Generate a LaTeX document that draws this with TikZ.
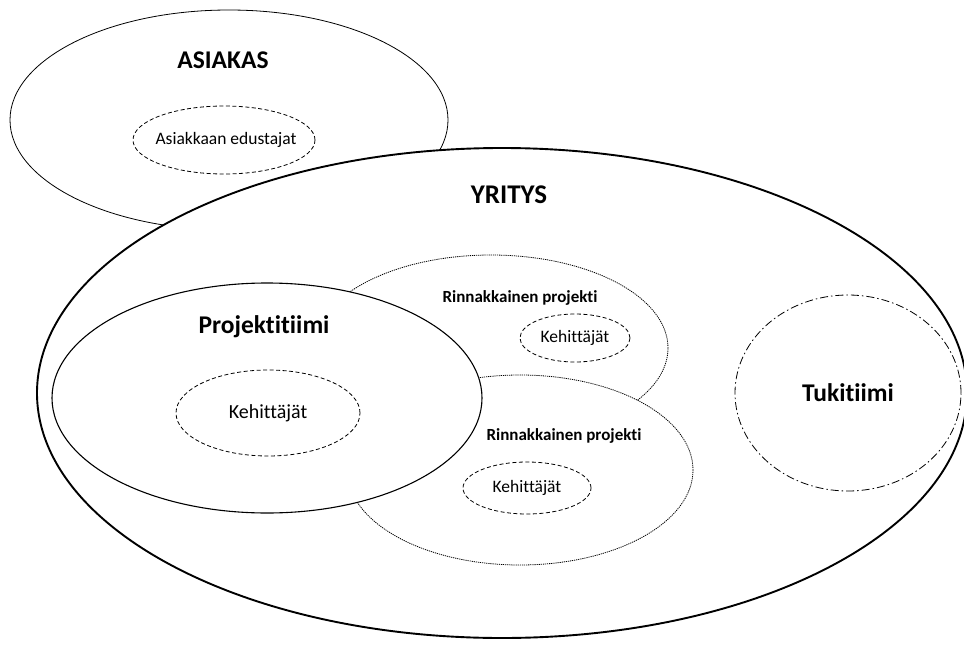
\documentclass[tikz,border=0pt]{standalone}
\usepackage{fontspec}
\setmainfont{Carlito}[Ligatures={NoCommon}]
\usetikzlibrary{shapes.geometric}

\tikzset{
  alue/.style={ellipse, draw, fill=white, inner sep=0pt},
  ryhma/.style={ellipse, draw, dash pattern=on 4pt off 2.5pt, line width=0.8pt, inner sep=0pt},
  rinn/.style={alue, dash pattern=on 1.2pt off 0.9pt, line width=0.8pt},
  otsikko/.style={font=\bfseries\fontsize{25.5}{30}\selectfont},
  pieni/.style={font=\bfseries\fontsize{17}{20}\selectfont},
}

\begin{document}
\begin{tikzpicture}[x=1pt, y=-1pt]
        \useasboundingbox (0,0) rectangle (964,648);

        % Asiakas
        \node[alue, line width=0.8pt, minimum width=438, minimum height=220] (asiakas) at (229,120) {};
        \node[ryhma, minimum width=182, minimum height=68,
              label={[font=\fontsize{17.5}{20}\selectfont, xshift=2pt]center:Asiakkaan edustajat}] (edustajat) at (224,140) {};

        % Yritys
        \node[alue, line width=1.9pt, minimum width=930, minimum height=490] (yritys) at (502,393) {};

        % Rinnakkaiset projektit
        \node[rinn, minimum width=354, minimum height=186] (rinn1) at (491,348) {};
        \node[rinn, minimum width=346, minimum height=190] (rinn2) at (520,470) {};

        % Projektitiimi
        \node[alue, line width=1.1pt, minimum width=430, minimum height=230] (projekti) at (267,398) {};

        % Kehittajat
        \node[ryhma, minimum width=184, minimum height=86, font=\fontsize{20}{24}\selectfont] (keh0) at (268,413) {Kehittäjät};
        \node[ryhma, minimum width=110, minimum height=48, font=\fontsize{17.5}{20}\selectfont] (keh1) at (575,338) {Kehittäjät};
        \node[ryhma, minimum width=128, minimum height=52, font=\fontsize{17.5}{20}\selectfont] (keh2) at (527,488) {Kehittäjät};

        % Tukitiimi
        \node[ellipse, draw, inner sep=0pt, line width=0.8pt, dash pattern=on 8pt off 3pt on 1.5pt off 3pt,
              minimum width=226, minimum height=196, otsikko] (tuki) at (848,393) {Tukitiimi};

        % Otsikot
        \node[otsikko] (asiakasOts) at (223,60) {ASIAKAS};
        \node[otsikko, font=\bfseries\fontsize{27}{32}\selectfont] (yritysOts) at (509,195) {YRITYS};
        \node[otsikko] (projektiOts) at (264,327) {Projektitiimi};
        \node[pieni] (rinn1Ots) at (520,298) {Rinnakkainen projekti};
        \node[pieni] (rinn2Ots) at (564,436) {Rinnakkainen projekti};
\end{tikzpicture}
\end{document}
